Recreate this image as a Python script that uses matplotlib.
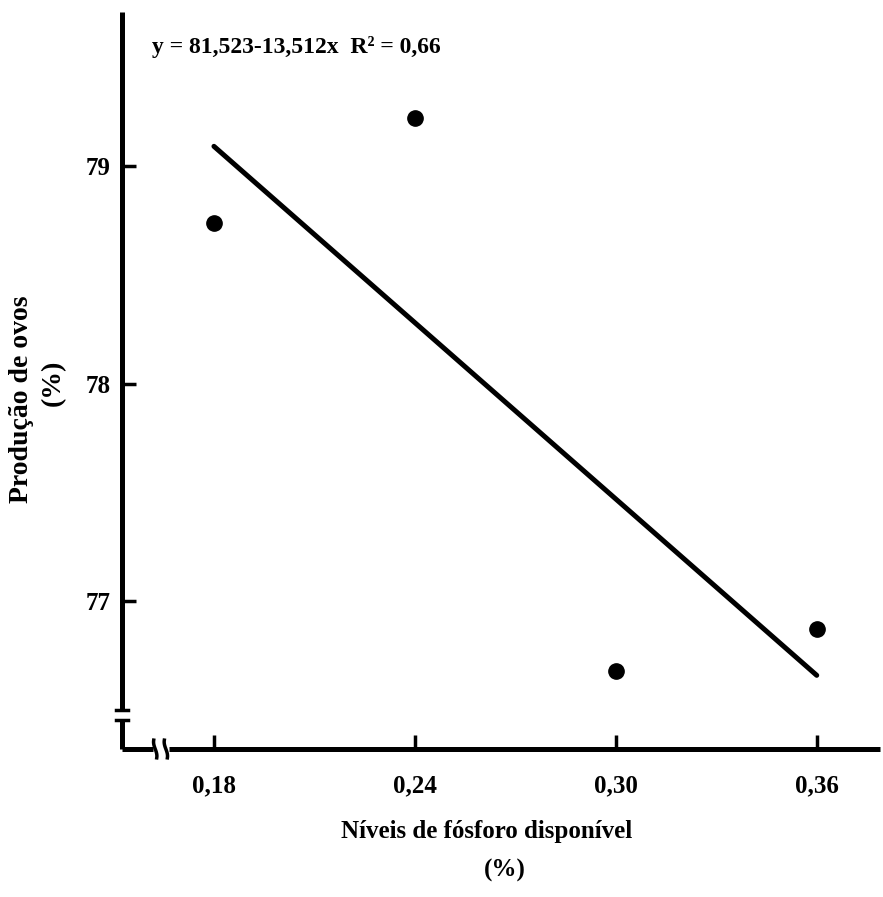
import numpy as np
import matplotlib.pyplot as plt

niveis = [0.18, 0.24, 0.30, 0.36]
producao = [78.74, 79.22, 76.68, 76.87]

# fitted regression y = 81,523 - 13,512x
coef_a = 81.523
coef_b = -13.512
x_fit = np.array([0.18, 0.36])
y_fit = coef_a + coef_b * x_fit

xticks = [0.18, 0.24, 0.30, 0.36]
xtick_labels = ["0,18", "0,24", "0,30", "0,36"]
yticks = [77, 78, 79]
ytick_labels = ["77", "78", "79"]

plt.rcParams['font.family'] = 'Liberation Serif'
plt.rcParams['font.weight'] = 'bold'

fig = plt.figure(figsize=(8.83, 8.97), dpi=100)
ax = fig.add_axes([0.138, 0.165, 0.859, 0.822])

ax.plot(x_fit, y_fit, color='black', lw=3.6, solid_capstyle='round')
ax.plot(niveis, producao, 'o', color='black', markersize=11)

ax.set_xlim(0.1525, 0.379)
ax.set_ylim(76.32, 79.71)
ax.set_xticks(xticks)
ax.set_xticklabels(xtick_labels)
ax.set_yticks(yticks)
ax.set_yticklabels(ytick_labels)
ax.tick_params(direction='in', length=10, width=2.5, labelsize=18)
ax.tick_params(axis='x', pad=18)
ax.tick_params(axis='y', pad=8)
for lab in ax.get_xticklabels() + ax.get_yticklabels():
    lab.set_fontweight('bold')

# axes drawn by hand so the breaks can be shown
for s in ax.spines.values():
    s.set_visible(False)
lw_ax = 3.6
kw = dict(transform=ax.transAxes, color='black', lw=lw_ax, clip_on=False,
          solid_capstyle='butt')
# y axis with break
ax.plot([0, 0], [0, 0.040], **kw)
ax.plot([0, 0], [0.053, 1.0], **kw)
ax.plot([-0.008, 0.008], [0.040, 0.040], transform=ax.transAxes, color='black',
        lw=2.5, clip_on=False)
ax.plot([-0.008, 0.008], [0.053, 0.053], transform=ax.transAxes, color='black',
        lw=2.5, clip_on=False)
# x axis with break
ax.plot([0, 0.041], [0, 0], **kw)
ax.plot([0.062, 1.0], [0, 0], **kw)
t = np.linspace(-1, 1, 30)
for x0 in [0.044, 0.058]:
    ax.plot(x0 + 0.004 * np.sin(t * np.pi / 2) * -1 + 0.002 * t,
            0.012 * t, transform=ax.transAxes, color='black', lw=2.5,
            clip_on=False)

ax.text(0.0396, 0.9525, "y = 81,523-13,512x  R² = 0,66",
        transform=ax.transAxes, fontsize=17, fontweight='bold', va='center',
        ha='left')

fig.text(22 / 883, 1 - 399 / 897, "Produção de ovos", rotation=90,
         ha='center', va='center', fontsize=20, fontweight='bold')
fig.text(53 / 883, 1 - 383 / 897, "(%)", rotation=90,
         ha='center', va='center', fontsize=20, fontweight='bold')
fig.text(487 / 883, 1 - 831 / 897, "Níveis de fósforo disponível",
         ha='center', va='center', fontsize=18, fontweight='bold')
fig.text(505 / 883, 1 - 870 / 897, "(%)",
         ha='center', va='center', fontsize=18, fontweight='bold')

fig.savefig('out.png', dpi=100)
